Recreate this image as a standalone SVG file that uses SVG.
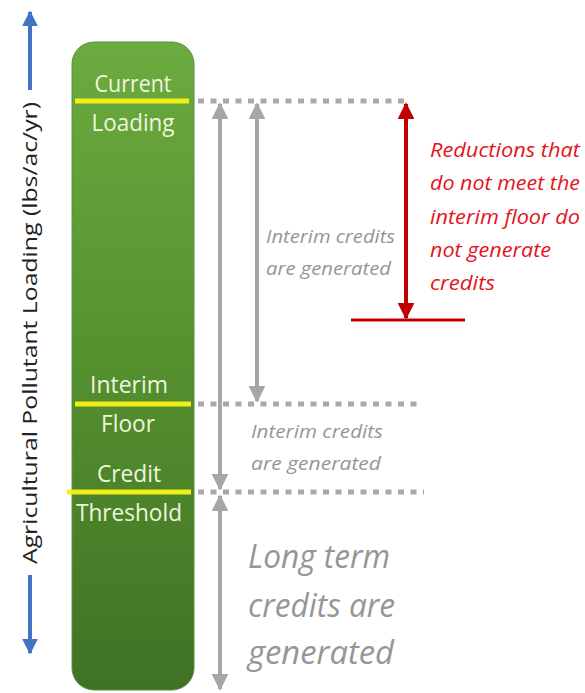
<svg xmlns="http://www.w3.org/2000/svg" width="585" height="693" viewBox="0 0 585 693">
  <defs>
    <linearGradient id="barFill" x1="0" y1="0" x2="0" y2="1">
      <stop offset="0" stop-color="#6cab3f"/>
      <stop offset="0.5" stop-color="#55902f"/>
      <stop offset="1" stop-color="#3f7225"/>
    </linearGradient>
    <marker id="grayHead" viewBox="0 0 10 10" refX="9" refY="5" markerWidth="4.2" markerHeight="4.4" orient="auto-start-reverse" markerUnits="strokeWidth">
      <path d="M0,0 L10,5 L0,10 z" fill="#a6a6a6"/>
    </marker>
    <marker id="redHead" viewBox="0 0 10 10" refX="9" refY="5" markerWidth="4.4" markerHeight="4.2" orient="auto-start-reverse" markerUnits="strokeWidth">
      <path d="M0,0 L10,5 L0,10 z" fill="#c00000"/>
    </marker>
    <marker id="blueHead" viewBox="0 0 10 10" refX="9" refY="5" markerWidth="4" markerHeight="4" orient="auto" markerUnits="strokeWidth">
      <path d="M0,0 L10,5 L0,10 z" fill="#4472c4"/>
    </marker>
  </defs>
  <style>
    .bar-label { font-family: "Open Sans", "Liberation Sans", sans-serif; font-size: 23px; fill: #eef6dc; text-anchor: middle; }
    .level { stroke: #f2ee1a; stroke-width: 5; }
    .dots { stroke: #a9a9a9; stroke-width: 5; stroke-dasharray: 6 6.5; fill: none; }
    .gray-arrow { stroke: #a6a6a6; stroke-width: 4; fill: none; }
    .note { font-family: "Open Sans", "Liberation Sans", sans-serif; font-style: italic; fill: #969696; }
    .red-note { font-family: "Open Sans", "Liberation Sans", sans-serif; font-style: italic; font-size: 20px; fill: #e3141c; }
    .axis-label { font-family: "Open Sans", "Liberation Sans", sans-serif; font-size: 20px; fill: #222; text-anchor: middle; }
  </style>

  <rect width="585" height="693" fill="#ffffff"/>

  <!-- vertical axis -->
  <g id="axis">
    <line x1="30" y1="90" x2="30" y2="12" stroke="#4472c4" stroke-width="4" marker-end="url(#blueHead)"/>
    <line x1="30" y1="575" x2="30" y2="653" stroke="#4472c4" stroke-width="4" marker-end="url(#blueHead)"/>
    <text class="axis-label" transform="translate(37,333) rotate(-90)" textLength="462" lengthAdjust="spacingAndGlyphs">Agricultural Pollutant Loading (lbs/ac/yr)</text>
  </g>

  <!-- loading column -->
  <g id="loading-bar">
    <rect x="72" y="42" width="122" height="648" rx="22" ry="22" fill="url(#barFill)" stroke="#5b8f3c" stroke-width="1"/>
  </g>

  <g id="current-loading">
    <line class="level" x1="75" y1="101" x2="189" y2="101"/>
    <text class="bar-label" x="133" y="92" textLength="77" lengthAdjust="spacingAndGlyphs">Current</text>
    <text class="bar-label" x="133" y="131" textLength="83" lengthAdjust="spacingAndGlyphs">Loading</text>
  </g>

  <g id="interim-floor">
    <line class="level" x1="75" y1="404" x2="191" y2="404"/>
    <text class="bar-label" x="129" y="393" textLength="78" lengthAdjust="spacingAndGlyphs">Interim</text>
    <text class="bar-label" x="128" y="432" textLength="54" lengthAdjust="spacingAndGlyphs">Floor</text>
  </g>

  <g id="credit-threshold">
    <line class="level" x1="67" y1="492" x2="191" y2="492"/>
    <text class="bar-label" x="129" y="482" textLength="64" lengthAdjust="spacingAndGlyphs">Credit</text>
    <text class="bar-label" x="129" y="521" textLength="106" lengthAdjust="spacingAndGlyphs">Threshold</text>
  </g>

  <!-- connectors -->
  <g id="connectors">
    <line class="dots" x1="198" y1="101" x2="405" y2="101"/>
    <line class="dots" x1="198" y1="404" x2="418" y2="404"/>
    <line class="dots" x1="198" y1="492" x2="424" y2="492"/>

    <line class="gray-arrow" x1="220" y1="104" x2="220" y2="489" marker-start="url(#grayHead)" marker-end="url(#grayHead)"/>
    <line class="gray-arrow" x1="257" y1="104" x2="257" y2="401" marker-start="url(#grayHead)" marker-end="url(#grayHead)"/>
    <line class="gray-arrow" x1="220" y1="496" x2="220" y2="689" marker-start="url(#grayHead)" marker-end="url(#grayHead)"/>

    <line x1="406" y1="104" x2="406" y2="318" stroke="#c00000" stroke-width="4" marker-start="url(#redHead)" marker-end="url(#redHead)"/>
    <line x1="351" y1="320" x2="465" y2="320" stroke="#c00000" stroke-width="3"/>
  </g>

  <!-- annotations -->
  <g id="interim-upper-note">
    <text class="note" font-size="19" x="266" y="243" textLength="129" lengthAdjust="spacingAndGlyphs">Interim credits</text>
    <text class="note" font-size="19" x="266" y="275" textLength="125" lengthAdjust="spacingAndGlyphs">are generated</text>
  </g>

  <g id="interim-lower-note">
    <text class="note" font-size="19" x="251" y="438" textLength="132" lengthAdjust="spacingAndGlyphs">Interim credits</text>
    <text class="note" font-size="19" x="251" y="470" textLength="130" lengthAdjust="spacingAndGlyphs">are generated</text>
  </g>

  <g id="long-term-note">
    <text class="note" font-size="32" x="248" y="568" textLength="142" lengthAdjust="spacingAndGlyphs">Long term</text>
    <text class="note" font-size="32" x="248" y="617" textLength="147" lengthAdjust="spacingAndGlyphs">credits are</text>
    <text class="note" font-size="32" x="248" y="664" textLength="146" lengthAdjust="spacingAndGlyphs">generated</text>
  </g>

  <g id="reduction-note">
    <text class="red-note" x="430" y="157" textLength="150" lengthAdjust="spacingAndGlyphs">Reductions that</text>
    <text class="red-note" x="430" y="190" textLength="150" lengthAdjust="spacingAndGlyphs">do not meet the</text>
    <text class="red-note" x="430" y="224" textLength="150" lengthAdjust="spacingAndGlyphs">interim floor do</text>
    <text class="red-note" x="430" y="257" textLength="121" lengthAdjust="spacingAndGlyphs">not generate</text>
    <text class="red-note" x="430" y="290" textLength="65" lengthAdjust="spacingAndGlyphs">credits</text>
  </g>
</svg>
